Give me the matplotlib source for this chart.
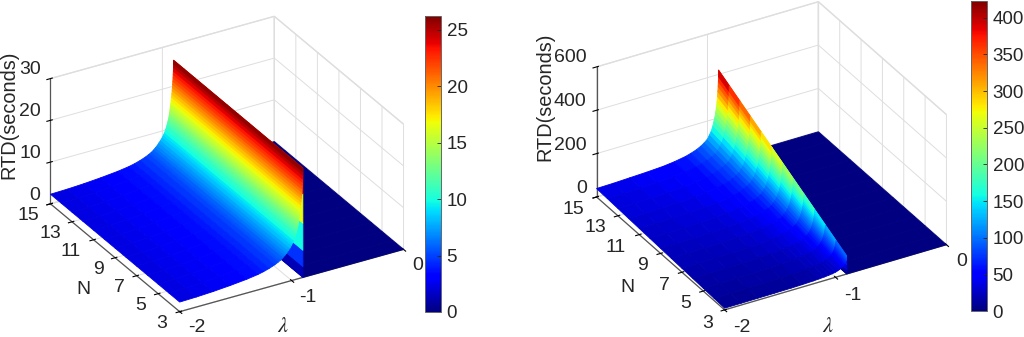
import numpy as np
import matplotlib
matplotlib.use('Agg')
import matplotlib.pyplot as plt
from matplotlib.cm import ScalarMappable
from matplotlib.colors import Normalize

plt.rcParams['font.family'] = ['Liberation Sans', 'DejaVu Sans']
plt.rcParams['axes.unicode_minus'] = False
plt.rcParams['mathtext.fontset'] = 'stix'

users = [3, 4, 5, 6, 7, 8, 9, 10, 11, 12, 13, 14, 15]
lam_ticks = [-2, -1, 0]
n_ticks = [3, 5, 7, 9, 11, 13, 15]

# left panel: same profile for every N, jump down to zero at lambda = -0.9
lam_left = [-2, -1.85, -1.7, -1.55, -1.4, -1.3, -1.25, -1.2, -1.15, -1.12, -1.1, -1.08, -1.06, -1.045, -1.03,
            -1.015, -1, -0.99, -0.98, -0.97, -0.96, -0.955, -0.95, -0.945, -0.941, -0.938, -0.935, -0.932,
            -0.929, -0.925, -0.922, -0.919, -0.916, -0.913, -0.911, -0.909, -0.907, -0.905, -0.9035, -0.902,
            -0.901, -0.9005, -0.9, -0.8998, -0.8996, -0.8994, -0.8992, -0.899, 0]
rtd_left = [2.3, 2.4, 2.6, 2.9, 3.3, 3.7, 4.0, 4.4, 4.9, 5.3, 5.6, 6.0, 6.5, 6.9, 7.4,
            7.9, 8.5, 9, 9.5, 10.2, 11, 11.5, 12, 12.5, 13, 13.5, 14, 14.7,
            15.3, 16, 16.8, 17.5, 18.2, 19, 19.7, 20.5, 21.2, 22, 22.8, 23.6,
            24.5, 25.3, 26.2, 20, 13, 6.5, 2.6, 0, 0]

# right panel: one row per N
lam_right = [-2, -1.85, -1.7, -1.55, -1.4, -1.3, -1.2, -1.15, -1.1, -1.06, -1.03, -1,
             -0.98, -0.965, -0.95, -0.94, -0.932, -0.925, -0.919, -0.914, -0.91, -0.907, -0.904, -0.902, -0.9008, -0.9,
             -0.8998, -0.8996, -0.8994, -0.8992, -0.899, 0]
rtd_right = [
    [7.8, 8.1, 8.7, 9.3, 10.2, 11.4, 13.2, 14.7, 16.5, 18.6, 20.7, 23.4, 27, 30, 34.5, 39, 42, 46.5, 51, 55.5, 60, 64.5, 69, 73.5, 78, 84, 63, 42, 21, 8.4, 0, 0],
    [10.4, 10.8, 11.6, 12.4, 13.6, 15.2, 17.6, 19.6, 22, 24.8, 27.6, 31.2, 36, 40, 46, 52, 56, 62, 68, 74, 80, 86, 92, 98, 104, 112, 84, 56, 28, 11.2, 0, 0],
    [13, 13.5, 14.5, 15.5, 17, 19, 22, 24.5, 27.5, 31, 34.5, 39, 45, 50, 57.5, 65, 70, 77.5, 85, 92.5, 100, 107.5, 115, 122.5, 130, 140, 105, 70, 35, 14, 0, 0],
    [15.6, 16.2, 17.4, 18.6, 20.4, 22.8, 26.4, 29.4, 33, 37.2, 41.4, 46.8, 54, 60, 69, 78, 84, 93, 102, 111, 120, 129, 138, 147, 156, 168, 126, 84, 42, 16.8, 0, 0],
    [18.2, 18.9, 20.3, 21.7, 23.8, 26.6, 30.8, 34.3, 38.5, 43.4, 48.3, 54.6, 63, 70, 80.5, 91, 98, 108.5, 119, 129.5, 140, 150.5, 161, 171.5, 182, 196, 147, 98, 49, 19.6, 0, 0],
    [20.8, 21.6, 23.2, 24.8, 27.2, 30.4, 35.2, 39.2, 44, 49.6, 55.2, 62.4, 72, 80, 92, 104, 112, 124, 136, 148, 160, 172, 184, 196, 208, 224, 168, 112, 56, 22.4, 0, 0],
    [23.4, 24.3, 26.1, 27.9, 30.6, 34.2, 39.6, 44.1, 49.5, 55.8, 62.1, 70.2, 81, 90, 103.5, 117, 126, 139.5, 153, 166.5, 180, 193.5, 207, 220.5, 234, 252, 189, 126, 63, 25.2, 0, 0],
    [26, 27, 29, 31, 34, 38, 44, 49, 55, 62, 69, 78, 90, 100, 115, 130, 140, 155, 170, 185, 200, 215, 230, 245, 260, 280, 210, 140, 70, 28, 0, 0],
    [28.6, 29.7, 31.9, 34.1, 37.4, 41.8, 48.4, 53.9, 60.5, 68.2, 75.9, 85.8, 99, 110, 126.5, 143, 154, 170.5, 187, 203.5, 220, 236.5, 253, 269.5, 286, 308, 231, 154, 77, 30.8, 0, 0],
    [31.2, 32.4, 34.8, 37.2, 40.8, 45.6, 52.8, 58.8, 66, 74.4, 82.8, 93.6, 108, 120, 138, 156, 168, 186, 204, 222, 240, 258, 276, 294, 312, 336, 252, 168, 84, 33.6, 0, 0],
    [33.8, 35.1, 37.7, 40.3, 44.2, 49.4, 57.2, 63.7, 71.5, 80.6, 89.7, 101.4, 117, 130, 149.5, 169, 182, 201.5, 221, 240.5, 260, 279.5, 299, 318.5, 338, 364, 273, 182, 91, 36.4, 0, 0],
    [36.4, 37.8, 40.6, 43.4, 47.6, 53.2, 61.6, 68.6, 77, 86.8, 96.6, 109.2, 126, 140, 161, 182, 196, 217, 238, 259, 280, 301, 322, 343, 364, 392, 294, 196, 98, 39.2, 0, 0],
    [39, 40.5, 43.5, 46.5, 51, 57, 66, 73.5, 82.5, 93, 103.5, 117, 135, 150, 172.5, 195, 210, 232.5, 255, 277.5, 300, 322.5, 345, 367.5, 390, 420, 315, 210, 105, 42, 0, 0],
]

W, H = 1024, 337
GRID = '#dedede'
DARK = '#262626'


def put(x, y, s, **kw):
    # x, y in pixels from top left of the figure
    kw.setdefault('color', DARK)
    kw.setdefault('fontsize', 14)
    return fig.text(x/W, 1 - y/H, s, ha='center', va='center', **kw)


def panel(lam, Z, vmax, zmax, zticks, cbticks, centre, elev, zasp, cbbox, rtd_xy, n_xy, lam_xy, xlab, ylab, zlab):
    # centre is where the middle of the box lands, in pixels from top left
    S = 381
    cx, cy = centre
    ax = fig.add_axes([(cx - 0.5135*S)/W, (H - cy - 0.5135*S)/H, S/W, S/H], projection='3d')
    ax.set_proj_type('ortho')
    ax.view_init(elev=elev, azim=-120)
    ax.set_box_aspect((1, 1, zasp))
    ax.patch.set_alpha(0)
    ax.computed_zorder = False

    X, Y = np.meshgrid(lam, users)
    Z = np.array(Z)
    # the rising part has to be painted after the wall and the flat part behind it
    k = Z[-1].argmax()
    parts = [(X[:, k:], Y[:, k:], Z[:, k:], 2), (X[:, :k+1], Y[:, :k+1], Z[:, :k+1], 3)]
    for x, y, z, order in parts:
        surf = ax.plot_surface(x, y, z, rstride=1, cstride=1, cmap='jet', vmin=0, vmax=vmax,
                               linewidth=0, antialiased=True, shade=False, zorder=order)
        surf.set_edgecolor('face')
        surf.set_linewidth(0.6)

    ax.set_xlim(-2, 0, view_margin=0)
    ax.set_ylim(3, 15, view_margin=0)
    ax.set_zlim(0, zmax, view_margin=0)
    ax.set_xticks(lam_ticks)
    ax.set_yticks(n_ticks)
    ax.set_zticks(zticks)
    ax.set_xticklabels([])
    ax.set_yticklabels([])
    ax.set_zticklabels([])

    for a in (ax.xaxis, ax.yaxis, ax.zaxis):
        a.set_pane_color((1, 1, 1, 1))
        a.pane.set_edgecolor(GRID)
        a.line.set_color('#555555')
        a.line.set_linewidth(0.9)
        a._axinfo['grid'].update(color=GRID, linewidth=0.7)
        a._axinfo['tick'].update(color='#555555')

    # tick labels sit where the reference has them
    for v, xy in zip(lam_ticks, xlab):
        put(xy[0], xy[1], str(v))
    for v, xy in zip(n_ticks, ylab):
        put(xy[0], xy[1], str(v))
    for v, xy in zip(zticks, zlab):
        put(xy[0], xy[1], str(v))

    cax = fig.add_axes([cbbox[0]/W, (H - cbbox[3])/H, (cbbox[2] - cbbox[0])/W, (cbbox[3] - cbbox[1])/H])
    cb = fig.colorbar(ScalarMappable(Normalize(0, vmax), 'jet'), cax=cax, ticks=cbticks)
    cb.ax.tick_params(labelsize=13.5, direction='in', length=3, width=0.6, colors=DARK, pad=4)
    cb.outline.set_edgecolor('#666666')
    cb.outline.set_linewidth(0.7)

    put(rtd_xy[0], rtd_xy[1], 'RTD(seconds)', rotation=90, fontsize=14.3)
    put(n_xy[0], n_xy[1], 'N', fontsize=14)
    put(lam_xy[0], lam_xy[1], r'$\lambda$', fontsize=16)


fig = plt.figure(figsize=(W/100, H/100), dpi=100)

panel(lam_left, np.tile(rtd_left, (len(users), 1)), 26.2, 30, [0, 10, 20, 30], [0, 5, 10, 15, 20, 25],
      (227, 164), 28.8, 0.553, (425, 16, 441, 312), (9, 115), (83, 290), (283, 326),
      [(197, 328), (308, 297), (418, 266)],
      [(162, 323), (141, 305), (119, 287), (98, 269), (71, 252), (50, 233), (28, 216)],
      [(35, 195), (30, 154), (30, 112), (30, 70)])
panel(lam_right, rtd_right, 423, 600, [0, 200, 400, 600], list(range(0, 401, 50)),
      (771.5, 155.8), 30.6, 0.59, (971, 1, 987, 311), (545, 97), (627, 288), (828, 326),
      [(742, 328), (853, 295), (962, 262)],
      [(708, 323), (686, 304), (664, 285), (643, 266), (616, 248), (595, 228), (573, 210)],
      [(582, 188), (570, 145), (570, 101), (570, 57)])

fig.savefig('out.png', dpi=100)
